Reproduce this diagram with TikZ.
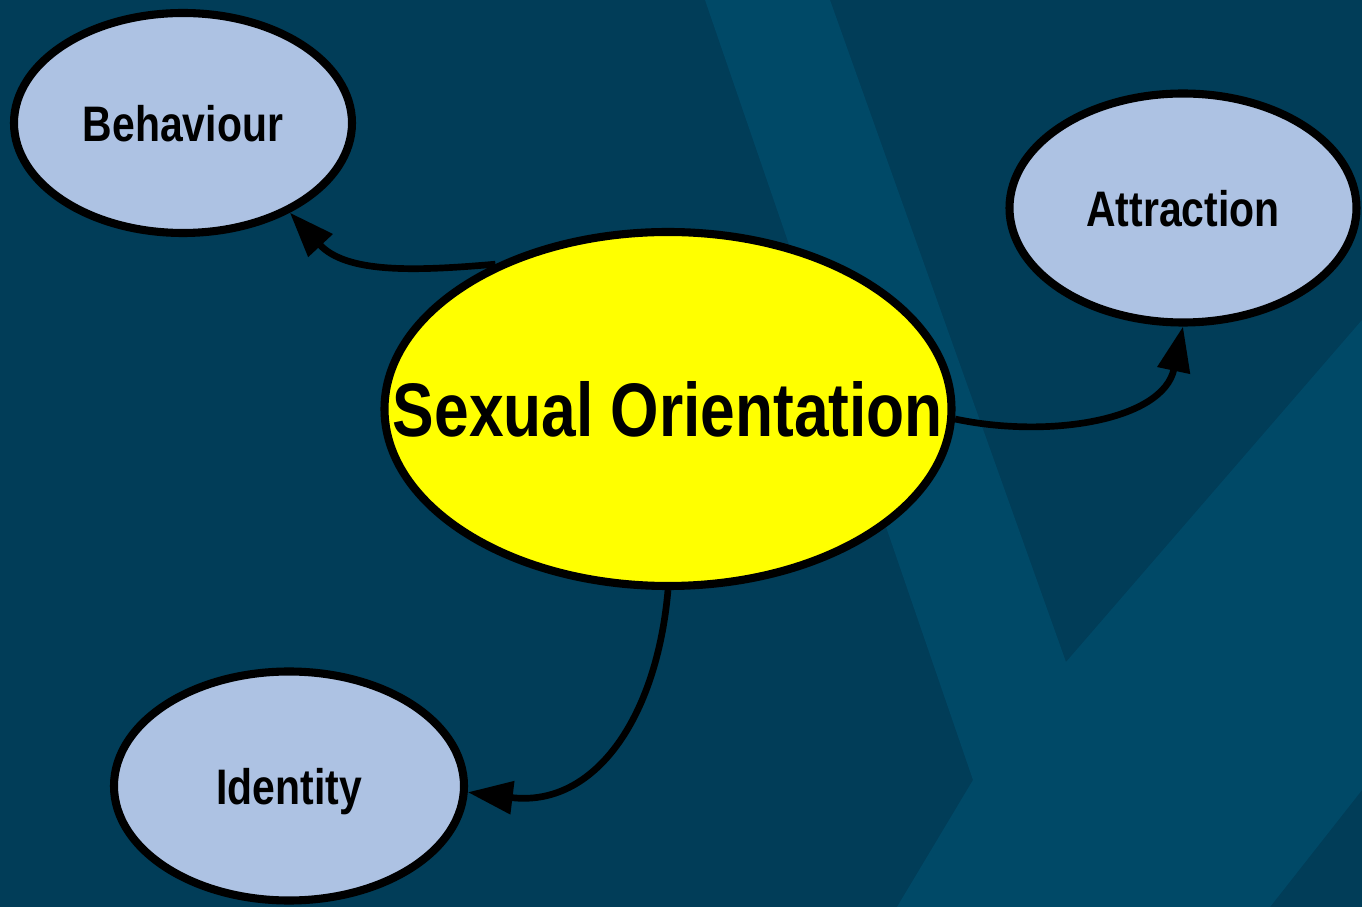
\documentclass[tikz,border=0pt]{standalone}
\usepackage{fontspec}
\newfontfamily\labelfont{Liberation Sans}[FakeStretch=0.82]
\usepackage{tikz}
\usetikzlibrary{shapes.geometric,arrows.meta}

\definecolor{slidebg}{RGB}{1,61,88}
\definecolor{slideband}{RGB}{0,73,103}
\definecolor{facetblue}{RGB}{173,194,227}
\definecolor{coreyellow}{RGB}{255,255,0}

\begin{document}
\begin{tikzpicture}[auto, >={Triangle[length=4.5mm,width=3.2mm]}]
\tikzset{facet/.style = {draw, ellipse, line width=2.3pt, fill=facetblue,
  minimum width=3.38cm, minimum height=2.2cm, inner sep=0pt,
  text depth=0pt, font=\labelfont\bfseries\fontsize{14.2}{16}\selectfont}}
\tikzset{link/.style = {->, line width=1.9pt}}

  \useasboundingbox (0,0) rectangle (13.62,-9.07);

  % slide background with its lighter band
  \fill[slidebg] (0,0) rectangle (13.62,-9.07);
  \fill[slideband] (7.05,0) -- (8.30,0) -- (10.66,-6.62) -- (13.62,-3.20)
    -- (13.62,-7.90) -- (12.70,-9.07) -- (8.97,-9.07) -- (9.73,-7.80)
    -- cycle;

  % the core node is sized by hand, its name sits on it as a label
  \node[facet, fill=coreyellow, minimum width=5.67cm, minimum height=3.54cm,
    label={[font=\labelfont\bfseries\fontsize{21.6}{24}\selectfont,
    text depth=0pt]center:Sexual Orientation}]
    (orientation) at (6.68,-4.09) {};

  \node[facet, node distance=4.85cm, left of=orientation, yshift=2.86cm]
    (behaviour) {Behaviour};
  \node[facet, node distance=5.15cm, right of=orientation, yshift=2.01cm,
    minimum width=3.47cm, minimum height=2.29cm]
    (attraction) {Attraction};
  \node[facet, node distance=3.79cm, left of=orientation, yshift=-3.77cm,
    minimum width=3.50cm, minimum height=2.29cm]
    (identity) {Identity};

  \draw[link] (orientation.140) to[out=185, in=-47] (behaviour.-40);
  \draw[link] (orientation.-2) to[out=-12, in=-102] (attraction.south);
  \draw[link] (orientation.south) to[out=-95, in=-7, looseness=1.15]
    (identity.-2);

\end{tikzpicture}
\end{document}
